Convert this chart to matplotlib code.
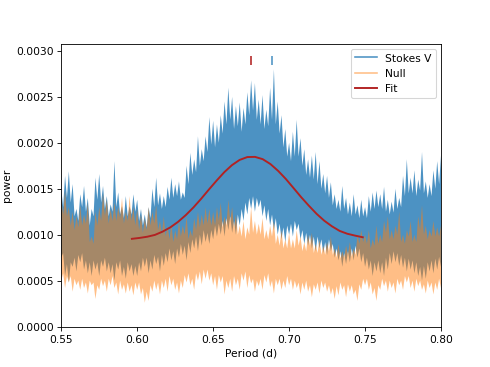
import matplotlib

matplotlib.use("Agg")
import matplotlib.pyplot as plt
import numpy as np
from matplotlib.lines import Line2D

# periodogram, power in units of 1e-3.
# *_hi / *_lo are the spike tips on the period grid,
# *_hi_mid / *_lo_mid the dips between them (half a step to the right)
period = np.linspace(0.55, 0.80, 101)

stokes_hi = [
    1.50, 1.64, 1.69, 1.55, 1.28, 1.44, 1.53, 1.40, 1.28, 1.62, 1.66, 1.53, 1.42, 1.33, 1.80, 1.46, 1.31, 1.42, 1.31, 1.44,
    1.38, 1.28, 1.22, 1.30, 1.50, 1.62, 1.45, 1.42, 1.52, 1.62, 1.55, 1.58, 1.46, 1.75, 1.89, 1.82, 2.07, 1.93, 2.07, 2.28,
    2.24, 2.20, 2.30, 2.45, 2.60, 2.50, 2.40, 2.44, 2.38, 2.55, 2.68, 2.65, 2.47, 2.52, 2.36, 2.60, 2.80, 2.45, 2.30, 2.15,
    2.00, 2.12, 2.25, 2.05, 1.93, 1.82, 1.86, 1.90, 1.80, 1.66, 1.64, 1.57, 1.44, 1.38, 1.53, 1.40, 1.35, 1.44, 1.32, 1.38,
    1.30, 1.42, 1.46, 1.48, 1.44, 1.52, 1.38, 1.36, 1.50, 1.40, 1.64, 1.82, 1.62, 1.70, 1.60, 1.90, 1.58, 1.55, 1.70, 1.80, 1.86,
]
stokes_hi_mid = [
    1.30, 1.40, 1.35, 1.20, 1.15, 1.30, 1.25, 1.10, 1.20, 1.38, 1.35, 1.28, 1.20, 1.25, 1.30, 1.22, 1.18, 1.20, 1.22, 1.25,
    1.15, 1.10, 1.08, 1.18, 1.30, 1.32, 1.28, 1.30, 1.38, 1.40, 1.42, 1.38, 1.40, 1.55, 1.65, 1.68, 1.75, 1.80, 1.90, 1.98,
    1.95, 2.00, 2.10, 2.20, 2.25, 2.15, 2.18, 2.12, 2.20, 2.30, 2.35, 2.25, 2.20, 2.15, 2.18, 2.25, 2.20, 2.10, 1.95, 1.85,
    1.80, 1.85, 1.85, 1.75, 1.65, 1.62, 1.60, 1.55, 1.50, 1.45, 1.40, 1.32, 1.28, 1.25, 1.28, 1.22, 1.20, 1.22, 1.18, 1.20,
    1.18, 1.25, 1.28, 1.30, 1.28, 1.25, 1.22, 1.24, 1.28, 1.30, 1.42, 1.45, 1.45, 1.42, 1.48, 1.45, 1.40, 1.42, 1.50, 1.55,
]
stokes_lo = [
    0.75, 0.55, 0.48, 0.65, 0.60, 0.70, 0.62, 0.58, 0.55, 0.62, 0.55, 0.65, 0.60, 0.58, 0.50, 0.62, 0.55, 0.52, 0.60, 0.55,
    0.55, 0.60, 0.65, 0.58, 0.62, 0.68, 0.60, 0.66, 0.70, 0.72, 0.68, 0.75, 0.78, 0.72, 0.80, 0.85, 0.82, 0.88, 0.92, 0.90,
    0.95, 0.98, 1.00, 0.98, 1.05, 1.02, 1.00, 1.10, 1.15, 1.22, 1.28, 1.25, 1.30, 1.20, 1.15, 1.10, 1.05, 1.00, 0.95, 0.92,
    1.00, 0.98, 1.05, 0.95, 0.90, 0.88, 0.85, 0.82, 0.85, 0.80, 0.78, 0.82, 0.75, 0.72, 0.65, 0.68, 0.70, 0.72, 0.75, 0.70,
    0.65, 0.62, 0.55, 0.60, 0.58, 0.55, 0.62, 0.68, 0.70, 0.66, 0.64, 0.60, 0.62, 0.58, 0.55, 0.50, 0.52, 0.60, 0.58, 0.62, 0.65,
]
stokes_lo_mid = [
    0.80, 0.68, 0.70, 0.75, 0.78, 0.80, 0.72, 0.70, 0.72, 0.70, 0.72, 0.75, 0.70, 0.68, 0.70, 0.72, 0.65, 0.70, 0.68, 0.66,
    0.70, 0.75, 0.75, 0.72, 0.78, 0.76, 0.78, 0.80, 0.85, 0.82, 0.85, 0.90, 0.88, 0.92, 0.95, 0.98, 1.00, 1.05, 1.02, 1.05,
    1.10, 1.12, 1.15, 1.18, 1.20, 1.15, 1.22, 1.28, 1.35, 1.40, 1.42, 1.40, 1.38, 1.32, 1.28, 1.22, 1.18, 1.12, 1.08, 1.10,
    1.12, 1.15, 1.12, 1.05, 1.02, 1.00, 0.98, 0.98, 0.95, 0.92, 0.95, 0.90, 0.85, 0.82, 0.80, 0.82, 0.85, 0.88, 0.85, 0.80,
    0.75, 0.72, 0.70, 0.72, 0.70, 0.75, 0.80, 0.82, 0.80, 0.78, 0.75, 0.74, 0.72, 0.70, 0.65, 0.66, 0.70, 0.72, 0.74, 0.76,
]
null_hi = [
    1.40, 1.48, 1.30, 1.25, 1.20, 1.32, 1.22, 1.35, 0.98, 1.25, 1.30, 1.45, 1.38, 1.28, 1.35, 1.30, 1.40, 1.25, 1.42, 1.30,
    1.28, 1.22, 1.18, 1.30, 1.25, 1.32, 1.15, 1.20, 1.10, 1.12, 1.05, 1.15, 1.10, 1.20, 1.05, 1.18, 1.25, 1.22, 1.30, 1.28,
    1.25, 1.30, 1.35, 1.20, 1.38, 1.30, 1.22, 1.10, 1.15, 1.08, 1.30, 1.15, 1.12, 1.18, 1.05, 1.10, 1.15, 1.00, 1.05, 0.95,
    1.02, 0.95, 1.05, 0.98, 0.92, 1.00, 1.02, 0.90, 0.95, 0.88, 0.92, 0.98, 0.85, 0.90, 0.82, 0.88, 0.92, 0.85, 1.00, 1.05,
    1.00, 1.05, 0.95, 1.10, 1.00, 1.15, 1.20, 1.05, 1.10, 1.25, 1.00, 1.05, 1.15, 1.00, 1.20, 1.32, 1.10, 1.05, 1.15, 1.08, 1.10,
]
null_hi_mid = [
    1.22, 1.20, 1.10, 1.05, 1.08, 1.10, 1.12, 0.92, 0.90, 1.10, 1.15, 1.20, 1.12, 1.15, 1.15, 1.18, 1.12, 1.15, 1.15, 1.10,
    1.05, 1.02, 1.05, 1.10, 1.12, 1.05, 1.00, 0.98, 0.95, 0.92, 0.95, 0.98, 1.00, 0.95, 0.98, 1.05, 1.08, 1.10, 1.12, 1.10,
    1.10, 1.15, 1.08, 1.10, 1.15, 1.08, 1.00, 0.98, 0.95, 1.00, 1.02, 1.00, 1.00, 0.95, 0.95, 0.98, 0.90, 0.88, 0.85, 0.85,
    0.85, 0.85, 0.88, 0.82, 0.82, 0.88, 0.80, 0.80, 0.78, 0.78, 0.82, 0.78, 0.75, 0.74, 0.75, 0.78, 0.76, 0.78, 0.90, 0.92,
    0.90, 0.85, 0.88, 0.90, 0.92, 1.02, 0.95, 0.95, 1.00, 0.92, 0.90, 0.98, 0.92, 0.92, 1.05, 1.00, 0.95, 0.98, 0.98, 0.98,
]
null_lo = [
    0.50, 0.42, 0.48, 0.38, 0.45, 0.40, 0.42, 0.36, 0.45, 0.30, 0.40, 0.44, 0.38, 0.45, 0.42, 0.35, 0.40, 0.36, 0.38, 0.34,
    0.40, 0.35, 0.26, 0.28, 0.38, 0.40, 0.35, 0.42, 0.38, 0.45, 0.40, 0.36, 0.42, 0.48, 0.45, 0.40, 0.50, 0.46, 0.52, 0.50,
    0.45, 0.40, 0.48, 0.35, 0.42, 0.38, 0.45, 0.40, 0.50, 0.42, 0.47, 0.38, 0.44, 0.40, 0.48, 0.43, 0.36, 0.45, 0.40, 0.42,
    0.45, 0.40, 0.42, 0.35, 0.40, 0.38, 0.32, 0.40, 0.36, 0.42, 0.38, 0.35, 0.30, 0.34, 0.40, 0.32, 0.38, 0.35, 0.28, 0.40,
    0.45, 0.40, 0.35, 0.28, 0.40, 0.44, 0.38, 0.42, 0.36, 0.45, 0.40, 0.48, 0.42, 0.38, 0.44, 0.40, 0.36, 0.42, 0.35, 0.40, 0.42,
]
null_lo_mid = [
    0.58, 0.55, 0.55, 0.52, 0.50, 0.52, 0.48, 0.50, 0.48, 0.45, 0.52, 0.50, 0.52, 0.55, 0.48, 0.50, 0.46, 0.48, 0.45, 0.48,
    0.48, 0.42, 0.38, 0.45, 0.50, 0.48, 0.50, 0.52, 0.55, 0.52, 0.48, 0.50, 0.56, 0.58, 0.52, 0.58, 0.60, 0.62, 0.62, 0.58,
    0.55, 0.56, 0.55, 0.50, 0.52, 0.55, 0.52, 0.58, 0.60, 0.56, 0.52, 0.50, 0.52, 0.56, 0.58, 0.50, 0.52, 0.52, 0.50, 0.55,
    0.52, 0.50, 0.48, 0.48, 0.50, 0.45, 0.46, 0.48, 0.50, 0.48, 0.45, 0.42, 0.44, 0.48, 0.45, 0.46, 0.45, 0.40, 0.46, 0.52,
    0.52, 0.48, 0.42, 0.45, 0.52, 0.50, 0.50, 0.48, 0.52, 0.50, 0.55, 0.55, 0.50, 0.52, 0.50, 0.46, 0.50, 0.48, 0.48, 0.52,
]

# gaussian fit, read at evenly spaced periods
fit_period = np.linspace(0.5965, 0.7485, 31)
fit_power = [
    0.955, 0.965, 0.978, 0.998, 1.034, 1.080, 1.140, 1.213, 1.297, 1.391, 1.491, 1.588, 1.680, 1.757, 1.814, 1.845,
    1.847, 1.822, 1.769, 1.695, 1.607, 1.508, 1.408, 1.315, 1.227, 1.152, 1.091, 1.041, 1.010, 0.990, 0.972,
]

# peak markers
fit_peak = 0.675
stokes_peak = 0.689
marker_range = (2.85, 2.94)

# C0 at alpha 0.8 on white, drawn opaque
stokes_color = "#4c92c3"
null_color = "C1"
fit_color = "firebrick"


def spiky_edge(tips, dips):
    """Interleave spike tips (on the grid) with the dips between them."""
    half = (period[1] - period[0]) / 2
    x = np.empty(2 * len(period) - 1)
    y = np.empty_like(x)
    x[0::2] = period
    x[1::2] = period[:-1] + half
    y[0::2] = tips
    y[1::2] = dips
    return x, y * 1e-3


def band(ax, hi, hi_mid, lo, lo_mid, **kwargs):
    # one polygon per series so the alpha is applied once
    xu, yu = spiky_edge(hi, hi_mid)
    xl, yl = spiky_edge(lo, lo_mid)
    ax.fill(np.concatenate([xu, xl[::-1]]), np.concatenate([yu, yl[::-1]]), lw=0, **kwargs)


fig, ax = plt.subplots(figsize=(6.4, 4.8), dpi=76.5625)

band(ax, stokes_hi, stokes_hi_mid, stokes_lo, stokes_lo_mid, color=stokes_color)
band(ax, null_hi, null_hi_mid, null_lo, null_lo_mid, color=null_color, alpha=0.5)
ax.plot(fit_period, np.array(fit_power) * 1e-3, color=fit_color, lw=1.8)

ymin, ymax = np.array(marker_range) * 1e-3
ax.vlines(fit_peak, ymin, ymax, color=fit_color, lw=1.5)
ax.vlines(stokes_peak, ymin, ymax, color=stokes_color, lw=1.5)

ax.set_xlim(0.55, 0.80)
ax.set_ylim(0, 0.00308)
ax.set_xlabel("Period (d)")
ax.set_ylabel("power")

handles = [
    Line2D([], [], color=stokes_color, lw=1.5),
    Line2D([], [], color=null_color, alpha=0.5, lw=1.5),
    Line2D([], [], color=fit_color, lw=1.8),
]
ax.legend(handles, ["Stokes V", "Null", "Fit"], loc="upper right")

fig.savefig("out.png")
